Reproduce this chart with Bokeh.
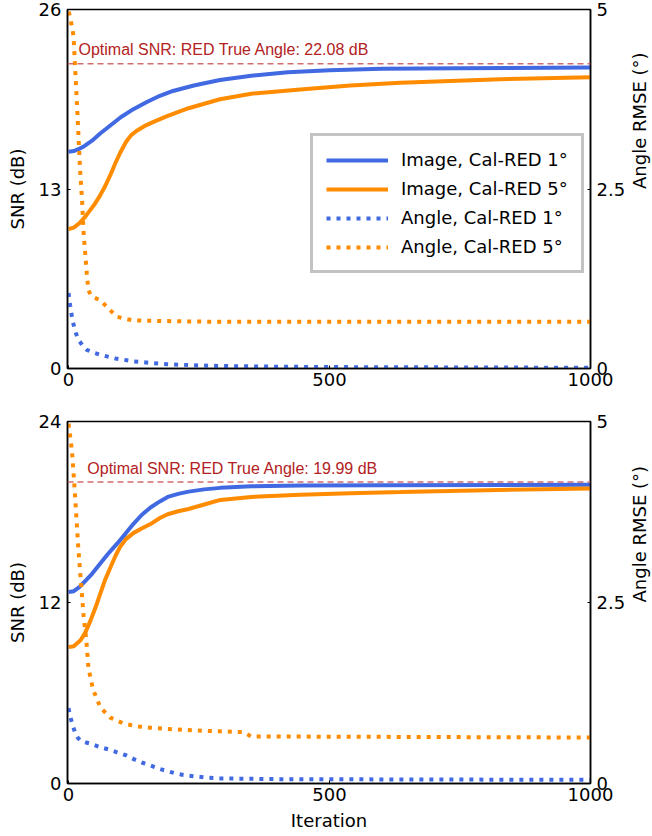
import math
from bokeh.plotting import figure
from bokeh.models import Range1d, LinearAxis, FixedTicker, Span, Label, Legend, LegendItem
from bokeh.layouts import column
from bokeh.embed import file_html
from bokeh.resources import INLINE

# ---------------- data ----------------
# top panel
top_opt_snr = 22.08
top_img1_it = [0, 10, 20, 30, 45, 60, 80, 100, 125, 150, 175, 200, 240, 290, 350, 420, 500, 600, 750, 1000]
top_img1_snr = [15.7, 15.75, 15.9, 16.1, 16.5, 17.0, 17.6, 18.2, 18.8, 19.3, 19.75, 20.1, 20.5, 20.9,
                21.2, 21.45, 21.6, 21.7, 21.75, 21.8]
top_img5_it = [0, 10, 20, 30, 40, 50, 60, 70, 80, 90, 100, 110, 120, 130, 145, 165, 190, 230, 290,
               350, 444, 540, 636, 827, 1000]
top_img5_snr = [10.1, 10.2, 10.5, 10.9, 11.4, 11.9, 12.5, 13.2, 14.0, 14.9, 15.7, 16.4, 16.9, 17.2,
                17.55, 17.9, 18.3, 18.85, 19.5, 19.9, 20.2, 20.5, 20.7, 20.95, 21.1]
top_ang1_it = [0, 3, 6.5, 12, 19, 27, 35, 48, 61, 90, 124, 160, 189, 240, 291, 400, 500, 1000]
top_ang1_rmse = [1.05, 0.88, 0.72, 0.53, 0.40, 0.32, 0.26, 0.22, 0.19, 0.14, 0.10, 0.075, 0.06,
                 0.045, 0.035, 0.025, 0.02, 0.01]
top_ang5_it = [0, 3, 9.6, 12.8, 16, 19, 22, 26, 29, 32, 35, 38, 43, 48, 61, 80, 93, 110, 124, 189,
               291, 1000]
top_ang5_rmse = [4.97, 4.9, 4.63, 4.16, 3.70, 3.25, 2.78, 2.33, 1.87, 1.60, 1.32, 1.09, 1.02, 0.99,
                 0.95, 0.81, 0.72, 0.69, 0.67, 0.66, 0.65, 0.65]

# bottom panel
bot_opt_snr = 19.99
bot_img1_it = [0, 10, 20, 30, 45, 60, 75, 93, 110, 124, 140, 157, 175, 190, 210, 230, 260, 291,
               350, 444, 600, 1000]
bot_img1_snr = [12.7, 12.75, 13.0, 13.35, 13.9, 14.55, 15.2, 15.9, 16.6, 17.2, 17.8, 18.3, 18.7,
                19.0, 19.2, 19.35, 19.5, 19.6, 19.7, 19.75, 19.78, 19.8]
bot_img5_it = [0, 10, 23, 32, 42, 52, 61, 70, 80, 90, 99, 110, 124, 140, 157, 175, 190, 210, 230,
               260, 291, 350, 444, 540, 636, 800, 1000]
bot_img5_snr = [9.04, 9.1, 9.5, 10.0, 10.8, 11.7, 12.6, 13.5, 14.3, 15.1, 15.7, 16.2, 16.6, 16.9,
                17.2, 17.6, 17.85, 18.05, 18.2, 18.5, 18.8, 19.0, 19.15, 19.25, 19.32, 19.45, 19.55]
bot_ang1_it = [0, 3, 7, 13, 18, 23, 32, 42, 61, 77, 93, 110, 124, 140, 157, 175, 190, 210, 228,
               260, 291, 400, 1000]
bot_ang1_rmse = [1.04, 0.93, 0.83, 0.69, 0.63, 0.59, 0.57, 0.55, 0.50, 0.47, 0.43, 0.39, 0.34,
                 0.29, 0.25, 0.20, 0.17, 0.13, 0.11, 0.085, 0.07, 0.06, 0.05]
bot_ang5_it = [0, 6.5, 11, 15, 19, 24, 29, 34, 38, 43, 48, 61, 80, 105, 130, 157, 220, 291, 335,
               350, 1000]
bot_ang5_rmse = [4.97, 4.60, 4.14, 3.68, 3.22, 2.76, 2.30, 1.98, 1.61, 1.42, 1.28, 1.05, 0.91,
                 0.83, 0.79, 0.77, 0.74, 0.72, 0.71, 0.65, 0.635]

legend_labels = ["Image, Cal-RED 1°", "Image, Cal-RED 5°", "Angle, Cal-RED 1°", "Angle, Cal-RED 5°"]
x_ticks = [0, 500, 1000]
top_snr_ticks = [0, 13, 26]
bot_snr_ticks = [0, 12, 24]
angle_ticks = [0, 2.5, 5]

BLUE = "#4169E1"
ORANGE = "#FF8C00"
FONT = "DejaVu Sans"
FRAME_W = 523


def style_axis(ax):
    ax.axis_line_color = "black"
    ax.axis_line_width = 1.5
    ax.major_tick_in = 3
    ax.major_tick_out = 0
    ax.minor_tick_line_color = None
    ax.major_label_text_font = FONT
    ax.major_label_text_font_size = "18px"
    ax.major_label_text_color = "black"
    ax.axis_label_text_font = FONT
    ax.axis_label_text_font_size = "18px"
    ax.axis_label_text_font_style = "normal"
    ax.axis_label_text_color = "black"


def make_panel(snr_max, snr_ticks, opt, img1, img5, ang1, ang5, label_xy, frame_h,
               border_top, border_bottom, show_xlabel, show_legend):
    p = figure(frame_width=FRAME_W, frame_height=frame_h, output_backend="svg",
               toolbar_location=None,
               x_range=Range1d(-2, 1000), y_range=Range1d(0, snr_max),
               min_border_left=67, min_border_right=62,
               min_border_top=border_top, min_border_bottom=border_bottom)
    p.extra_y_ranges = {"angle": Range1d(0, 5)}
    p.grid.visible = False
    p.outline_line_color = "black"
    p.outline_line_width = 1.5
    p.background_fill_color = "white"
    p.border_fill_color = "white"

    p.xaxis.ticker = FixedTicker(ticks=x_ticks)
    p.yaxis.ticker = FixedTicker(ticks=snr_ticks)
    p.yaxis.axis_label = "SNR (dB)"
    p.yaxis.axis_label_standoff = 8
    p.yaxis.major_label_standoff = 6
    p.xaxis.major_label_standoff = 4
    p.xaxis.axis_label_standoff = 6
    if show_xlabel:
        p.xaxis.axis_label = "Iteration"

    rax = LinearAxis(y_range_name="angle", ticker=FixedTicker(ticks=angle_ticks),
                     major_label_overrides={0: "0", 2.5: "2.5", 5: "5"},
                     axis_label="Angle RMSE (°)")
    rax.major_label_standoff = 6
    rax.axis_label_standoff = 11
    if "axis_label_orientation" in LinearAxis.properties():
        # read bottom-to-top like the reference
        rax.axis_label_orientation = math.pi / 2
    p.add_layout(rax, "right")
    for ax in list(p.xaxis) + list(p.yaxis):
        style_axis(ax)

    span = Span(location=opt, dimension="width", line_color="#CD5C5C", line_alpha=0.9,
                line_width=1.5, line_dash="6 4")
    p.add_layout(span)
    p.add_layout(Label(x=label_xy[0], y=label_xy[1],
                       text=f"Optimal SNR: RED True Angle: {opt:.2f} dB",
                       text_font="Liberation Sans", text_font_size="16px",
                       text_color="#B22222", text_baseline="middle", text_align="left"))

    r1 = p.line(img1[0], img1[1], line_color=BLUE, line_width=4)
    r2 = p.line(img5[0], img5[1], line_color=ORANGE, line_width=4)
    r3 = p.line(ang1[0], ang1[1], line_color=BLUE, line_width=4, line_dash="4 6",
                y_range_name="angle")
    r4 = p.line(ang5[0], ang5[1], line_color=ORANGE, line_width=4, line_dash="4 6",
                y_range_name="angle")

    if show_legend:
        leg = Legend(items=[LegendItem(label=l, renderers=[r]) for l, r in
                            zip(legend_labels, [r1, r2, r3, r4])],
                     location=(243, 95))
        leg.label_text_font = FONT
        leg.label_text_font_size = "18px"
        leg.label_text_color = "black"
        leg.glyph_width = 62
        leg.glyph_height = 20
        leg.label_height = 20
        leg.spacing = 8
        leg.padding = 13
        leg.margin = 0
        leg.label_standoff = 13
        leg.border_line_color = "#888888"
        leg.border_line_width = 3
        leg.background_fill_color = "white"
        leg.background_fill_alpha = 1.0
        p.add_layout(leg)
    return p


p1 = make_panel(26, top_snr_ticks, top_opt_snr,
                (top_img1_it, top_img1_snr), (top_img5_it, top_img5_snr),
                (top_ang1_it, top_ang1_rmse), (top_ang5_it, top_ang5_rmse),
                (19, 23.1), 359, 9, 34, False, True)
p2 = make_panel(24, bot_snr_ticks, bot_opt_snr,
                (bot_img1_it, bot_img1_snr), (bot_img5_it, bot_img5_snr),
                (bot_ang1_it, bot_ang1_rmse), (bot_ang5_it, bot_ang5_rmse),
                (36, 20.9), 362, 19, 50, True, False)

layout = column(p1, p2)
open("out.html", "w").write(file_html(layout, INLINE))
